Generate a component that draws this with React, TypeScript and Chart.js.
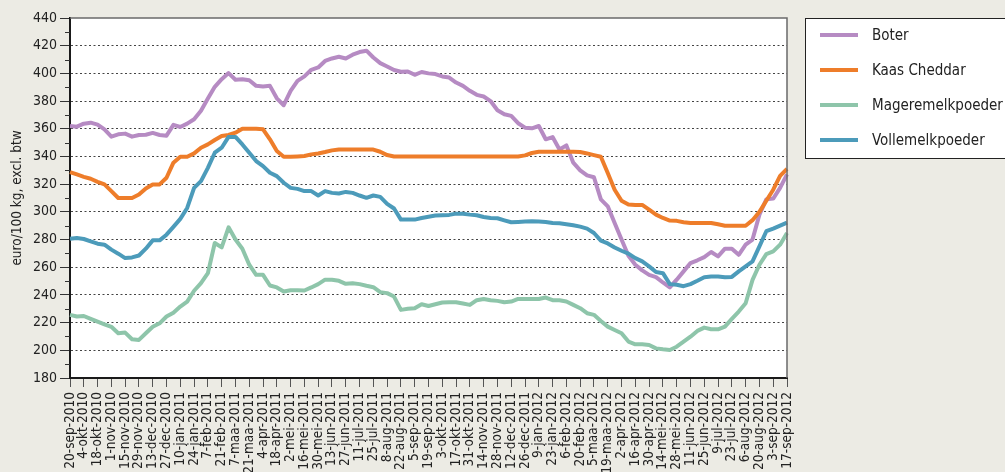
import React, { useEffect, useRef } from "react";
import { Chart, registerables } from "chart.js";

Chart.register(...registerables);

const weekLabels = [
  "20-sep-2010", "27-sep-2010", "4-okt-2010", "11-okt-2010", "18-okt-2010", "25-okt-2010",
  "1-nov-2010", "8-nov-2010", "15-nov-2010", "22-nov-2010", "29-nov-2010", "6-dec-2010",
  "13-dec-2010", "20-dec-2010", "27-dec-2010", "3-jan-2011", "10-jan-2011", "17-jan-2011",
  "24-jan-2011", "31-jan-2011", "7-feb-2011", "14-feb-2011", "21-feb-2011", "28-feb-2011",
  "7-maa-2011", "14-maa-2011", "21-maa-2011", "28-maa-2011", "4-apr-2011", "11-apr-2011",
  "18-apr-2011", "25-apr-2011", "2-mei-2011", "9-mei-2011", "16-mei-2011", "23-mei-2011",
  "30-mei-2011", "6-jun-2011", "13-jun-2011", "20-jun-2011", "27-jun-2011", "4-jul-2011",
  "11-jul-2011", "18-jul-2011", "25-jul-2011", "1-aug-2011", "8-aug-2011", "15-aug-2011",
  "22-aug-2011", "29-aug-2011", "5-sep-2011", "12-sep-2011", "19-sep-2011", "26-sep-2011",
  "3-okt-2011", "10-okt-2011", "17-okt-2011", "24-okt-2011", "31-okt-2011", "7-nov-2011",
  "14-nov-2011", "21-nov-2011", "28-nov-2011", "5-dec-2011", "12-dec-2011", "19-dec-2011",
  "26-dec-2011", "2-jan-2012", "9-jan-2012", "16-jan-2012", "23-jan-2012", "30-jan-2012",
  "6-feb-2012", "13-feb-2012", "20-feb-2012", "27-feb-2012", "5-maa-2012", "12-maa-2012",
  "19-maa-2012", "26-maa-2012", "2-apr-2012", "9-apr-2012", "16-apr-2012", "23-apr-2012",
  "30-apr-2012", "7-mei-2012", "14-mei-2012", "21-mei-2012", "28-mei-2012", "4-jun-2012",
  "11-jun-2012", "18-jun-2012", "25-jun-2012", "2-jul-2012", "9-jul-2012", "16-jul-2012",
  "23-jul-2012", "30-jul-2012", "6-aug-2012", "13-aug-2012", "20-aug-2012", "27-aug-2012",
  "3-sep-2012", "10-sep-2012", "17-sep-2012",
];

const boter = [
  362, 361.5, 363.7, 364.4, 363, 359.6, 354.3, 356, 356.5, 354.3,
  355.5, 355.7, 357, 355.5, 355, 362.8, 361.3, 363.7, 366.9, 373,
  381.8, 390.3, 395.8, 400.2, 395.4, 395.8, 395, 391, 390.5, 391,
  382, 377, 387.4, 394.6, 397.8, 402.6, 404.3, 409, 410.8, 412,
  410.8, 413.5, 415.4, 416.4, 411.5, 407.4, 405, 402.4, 401.2, 401.4,
  399, 401, 400, 399.5, 397.8, 397, 393.4, 391, 387.4, 384.5,
  383.3, 380, 373.4, 370.5, 369.3, 364, 360.8, 360.3, 362, 352.4,
  354, 345, 348, 335.5, 330, 326.3, 325, 309, 304, 292,
  280, 268.3, 261.8, 257.7, 254.5, 252.9, 249, 245.4, 251, 257,
  263, 265, 267.3, 271, 267.8, 273.4, 273.4, 269, 276.3, 280,
  298, 309, 309.6, 317.3, 327,
];

const kaasCheddar = [
  328.7, 327, 325.3, 323.9, 321.7, 319.8, 315, 310, 310, 310,
  312.5, 316.9, 319.8, 319.8, 324.6, 335.5, 339.8, 339.8, 342.2, 346.3,
  348.7, 351.9, 354.8, 355.5, 357.2, 360, 360, 360, 359.6, 352.4,
  344, 339.8, 339.8, 340, 340.3, 341.5, 342.2, 343.2, 344.4, 345,
  345, 345, 345, 345, 345, 343.4, 341, 340, 340, 340,
  340, 340, 340, 340, 340, 340, 340, 340, 340, 340,
  340, 340, 340, 340, 340, 340, 340.8, 342.5, 343.4, 343.4,
  343.4, 343.4, 343.4, 343.4, 343.2, 342.2, 341, 339.8, 328, 316,
  308, 305.3, 305, 305, 301.6, 298, 295.6, 293.7, 293.5, 292.5,
  292, 292, 292, 292, 291, 290, 290, 290, 290, 294,
  300, 308, 316, 326, 331,
];

const mageremelkpoeder = [
  225.6, 224.4, 224.8, 222.7, 220.7, 218.8, 217, 212.3, 212.8, 208,
  207.5, 212.3, 217, 219.5, 224.4, 227.2, 231.6, 235.2, 243, 248.5,
  255.7, 277.5, 274.3, 288.8, 280, 273.4, 261.8, 254.5, 254.5, 246.8,
  245.4, 242.5, 243.4, 243.4, 243.2, 245.4, 247.8, 251, 251, 250.2,
  248, 248.5, 247.8, 246.6, 245.6, 242, 241.3, 238.8, 229.2, 230,
  230.4, 233.3, 232, 233.3, 234.5, 234.7, 234.7, 233.8, 232.8, 236.2,
  237.1, 236.2, 235.7, 234.7, 235.2, 237.1, 237.1, 237.1, 237.1, 238.1,
  236.2, 236.2, 235.2, 232.8, 230.4, 226.8, 225.6, 221.2, 217.1, 214.7,
  212.3, 206.3, 204.3, 204.3, 203.8, 201.4, 200.7, 200.2, 202.6, 206.2,
  209.8, 214, 216.4, 215.2, 215.2, 217.1, 222.7, 228, 234, 250.9,
  261.8, 269.5, 271.4, 276.3, 284.7,
];

const vollemelkpoeder = [
  280.6, 281.1, 280.4, 278.7, 277, 276.3, 272.7, 269.8, 266.6, 267.1,
  268.5, 273.4, 279.4, 279.4, 283.5, 289.1, 294.9, 302.8, 317.3, 322.2,
  331.8, 342.7, 346.3, 354.1, 354.1, 348.7, 342.7, 336.7, 333, 328.2,
  325.8, 321, 317.3, 316.6, 315, 315, 311.8, 315, 313.7, 313.3,
  314.4, 313.7, 311.8, 310.1, 311.8, 310.8, 305.8, 302.4, 294.4, 294.4,
  294.4, 295.6, 296.5, 297.3, 297.5, 297.8, 298.7, 298.7, 298, 297.5,
  296.3, 295.6, 295.4, 293.9, 292.5, 292.7, 293, 293.2, 293, 292.7,
  292, 291.7, 291, 290.3, 289.3, 287.9, 284.7, 279.2, 277.2, 274.3,
  271.9, 269.8, 266.6, 264.2, 260.6, 256.5, 255.7, 247.8, 247.3, 246.3,
  247.8, 250.2, 252.8, 253.3, 253.3, 252.8, 253, 257, 260.6, 264.2,
  275, 286, 287.9, 290, 292.2,
];

const seriesNames = ["Boter", "Kaas Cheddar", "Mageremelkpoeder", "Vollemelkpoeder"];
const seriesColors = ["#B68BC3", "#EE7D2A", "#8EC5AA", "#4C9BBA"];
const yTitle = "euro/100 kg, excl. btw";

const FONT = '"DejaVu Sans Condensed", "DejaVu Sans", sans-serif';

export default function App() {
  const ref = useRef<HTMLCanvasElement>(null);

  useEffect(() => {
    const canvas = ref.current;
    if (!canvas) return;

    const plotBg = {
      id: "plotBg",
      beforeDraw(chart: any) {
        const { ctx, chartArea } = chart;
        const { left, top, right, bottom } = chartArea;
        ctx.save();
        ctx.fillStyle = "#ffffff";
        ctx.fillRect(left, top, right - left, bottom - top);
        ctx.restore();
      },
    };

    const frame = {
      id: "frame",
      afterDraw(chart: any) {
        const { ctx, chartArea, scales } = chart;
        const { left, top, right, bottom } = chartArea;
        ctx.save();
        ctx.strokeStyle = "#6a6a6a";
        ctx.lineWidth = 1.5;
        ctx.beginPath();
        ctx.moveTo(left, top);
        ctx.lineTo(right, top);
        ctx.lineTo(right, bottom);
        ctx.stroke();
        const ys = scales.y;
        ctx.strokeStyle = "#333";
        ctx.lineWidth = 1;
        for (let v = ys.min + 10; v < ys.max; v += 20) {
          const py = Math.round(ys.getPixelForValue(v)) + 0.5;
          ctx.beginPath();
          ctx.moveTo(left - 5, py);
          ctx.lineTo(left, py);
          ctx.stroke();
        }
        const bx = 805.5, by = 18.5, bw = 220, bh = 140;
        ctx.fillStyle = "#ffffff";
        ctx.fillRect(bx, by, bw, bh);
        ctx.strokeStyle = "#222";
        ctx.lineWidth = 1;
        ctx.strokeRect(bx, by, bw, bh);
        chart.data.datasets.forEach((ds: any, k: number) => {
          const cy = 35 + k * 35;
          ctx.strokeStyle = ds.borderColor;
          ctx.lineWidth = 4;
          ctx.beginPath();
          ctx.moveTo(820, cy);
          ctx.lineTo(858, cy);
          ctx.stroke();
          ctx.fillStyle = "#222";
          ctx.font = `15px ${FONT}`;
          ctx.textBaseline = "middle";
          ctx.textAlign = "left";
          ctx.fillText(ds.label, 872, cy + 1);
        });
        ctx.restore();
      },
    };

    const seriesData = [boter, kaasCheddar, mageremelkpoeder, vollemelkpoeder];

    const chart = new Chart(canvas, {
      type: "line",
      data: {
        labels: weekLabels,
        datasets: seriesNames.map((name, k) => ({
          label: name,
          data: seriesData[k],
          borderColor: seriesColors[k],
          backgroundColor: seriesColors[k],
          borderWidth: 4,
          pointRadius: 0,
          tension: 0,
          fill: false,
          order: 3 - k,
        })),
      },
      options: {
        animation: false,
        responsive: false,
        maintainAspectRatio: false,
        layout: { padding: { top: 18, right: 218, left: 0, bottom: 0 } },
        plugins: {
          legend: { display: false },
          tooltip: { enabled: false },
        },
        elements: {
          line: { borderJoinStyle: "round", borderCapStyle: "butt" },
        },
        scales: {
          x: {
            type: "category",
            offset: false,
            grid: {
              drawOnChartArea: false,
              drawTicks: true,
              tickLength: 9,
              tickWidth: 1,
              tickColor: (c: any) => (c.index % 2 === 0 ? "#555" : "rgba(0,0,0,0)"),
            },
            border: { display: true, color: "#1a1a1a", width: 2 },
            ticks: {
              autoSkip: false,
              minRotation: 90,
              maxRotation: 90,
              padding: 5,
              color: "#222",
              font: { family: FONT, size: 13.5 },
              callback: (_v: any, i: number) => (i % 2 === 0 ? weekLabels[i] : ""),
            },
            afterFit: (s: any) => {
              s.height = 94;
            },
          },
          y: {
            min: 180,
            max: 440,
            ticks: {
              stepSize: 20,
              padding: 3,
              color: "#222",
              font: { family: FONT, size: 14 },
            },
            grid: {
              color: (c: any) =>
                c.tick && (c.tick.value === 180 || c.tick.value === 440) ? "rgba(0,0,0,0)" : "#444",
              lineWidth: 1,
              tickLength: 10,
              tickColor: "#333",
              tickWidth: 1,
            },
            border: { display: true, color: "#1a1a1a", width: 2, dash: [2, 2.5] },
            title: {
              display: true,
              text: yTitle,
              color: "#222",
              font: { family: FONT, size: 13.5 },
              padding: { top: 9, bottom: 0 },
            },
            afterFit: (s: any) => {
              s.width = 70;
            },
          },
        },
      },
      plugins: [plotBg, frame],
    } as any);

    return () => chart.destroy();
  }, []);

  return (
    <div
      style={{
        position: "fixed",
        left: 0,
        top: 0,
        width: 1005,
        height: 472,
        background: "#ECEBE4",
        overflow: "hidden",
      }}
    >
      <canvas ref={ref} width={1005} height={472} style={{ display: "block" }} />
    </div>
  );
}
